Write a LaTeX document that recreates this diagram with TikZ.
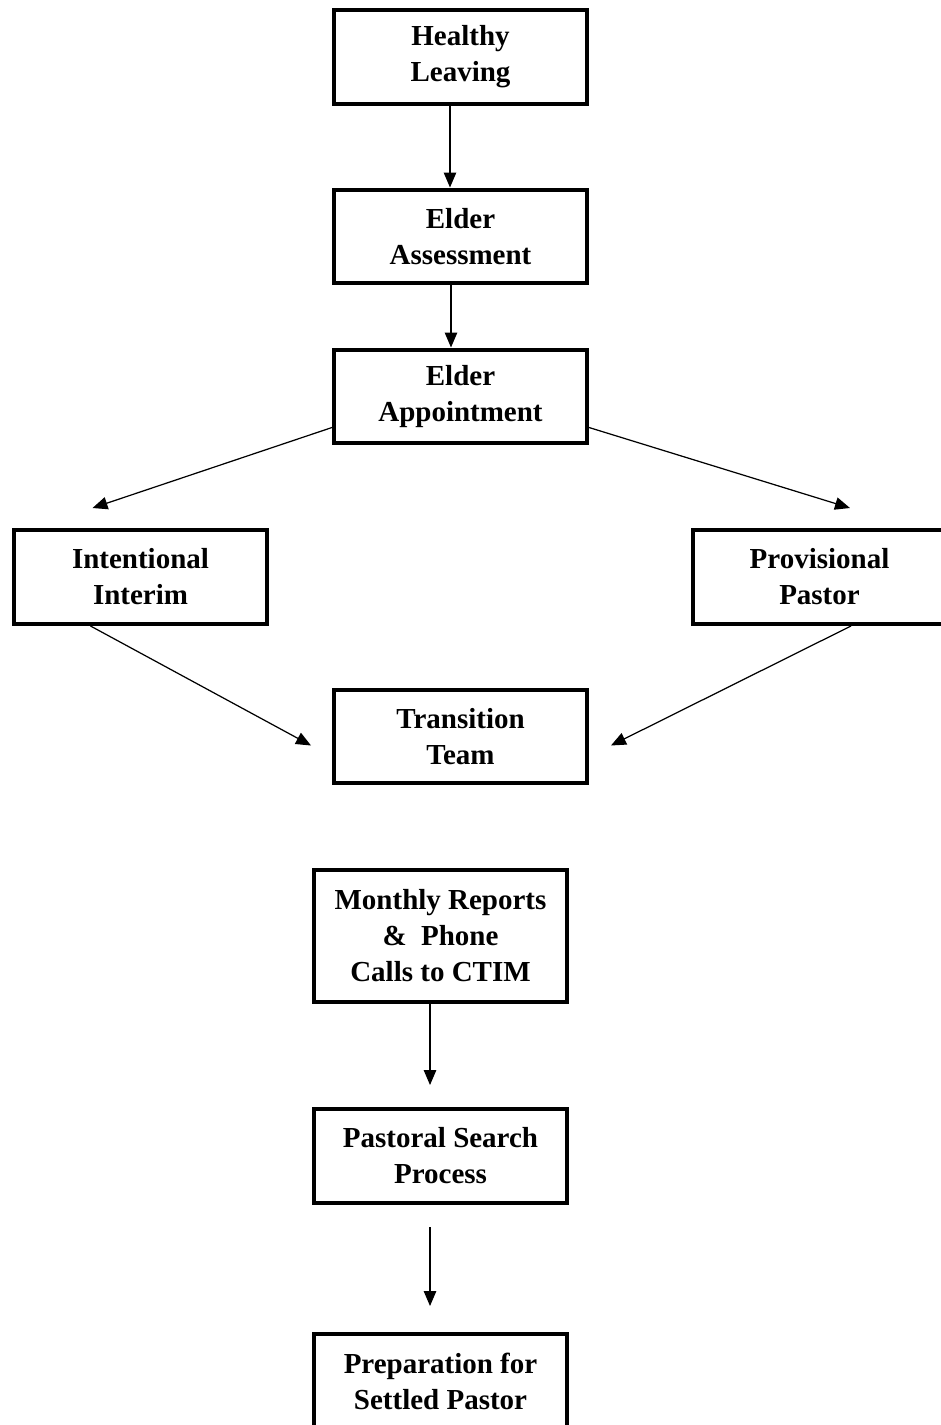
\documentclass[tikz,border=0pt]{standalone}
\usepackage{fontspec}
\setmainfont{Liberation Serif}
\usetikzlibrary{arrows.meta}

\begin{document}
\begin{tikzpicture}[x=0.02cm, y=-0.02cm, arr/.style={-{Triangle[length=0.3cm,width=0.25cm]}, line width=0.7pt}, stage/.style={rectangle,draw,line width=0.08cm,minimum width=5.06cm,minimum height=1.88cm,align=center,font=\fontsize{16.5}{20.5}\selectfont\bfseries}]

\useasboundingbox (0,0) rectangle (940,1425);

\node[stage](hl) at (460.5,57) {Healthy\\Leaving};
\node[stage](ea) at (460.5,236.5) {Elder\\Assessment};
\node[stage](eap) at (460.5,396.5) {Elder\\Appointment};
\node[stage](ii) at (140.5,577) {Intentional\\Interim};
\node[stage](pp) at (819.5,577) {Provisional\\Pastor};
\node[stage](tt) at (460.5,736.5) {Transition\\Team};
\node[stage, minimum height=2.64cm](mr) at (440.5,936) {Monthly Reports\\\& \ Phone\\Calls to CTIM};
\node[stage](ps) at (440.5,1156) {Pastoral Search\\Process};
\node[stage](sp) at (440.5,1381) {Preparation for\\Settled Pastor};


\draw[arr] ([xshift=-0.21cm]hl.south) -- ([xshift=-0.21cm]ea.north);
\draw[arr] ([xshift=-0.19cm]ea.south) -- ([xshift=-0.19cm]eap.north);

\draw[arr] ([yshift=-0.62cm]eap.west) -- ([shift={(-0.96cm,0.4cm)}]ii.north);
\draw[arr] ([yshift=-0.62cm]eap.east) -- ([shift={(0.61cm,0.4cm)}]pp.north);

\draw[arr] ([xshift=-1cm]ii.south) -- ([shift={(-0.42cm,-0.18cm)}]tt.west);
\draw[arr] ([xshift=0.63cm]pp.south) -- ([shift={(0.44cm,-0.18cm)}]tt.east);

\draw[arr] ([xshift=-0.21cm]mr.south) -- ([shift={(-0.21cm,0.44cm)}]ps.north);
\draw[arr] ([shift={(-0.21cm,-0.44cm)}]ps.south) -- ([shift={(-0.21cm,0.52cm)}]sp.north);

\end{tikzpicture}
\end{document}
